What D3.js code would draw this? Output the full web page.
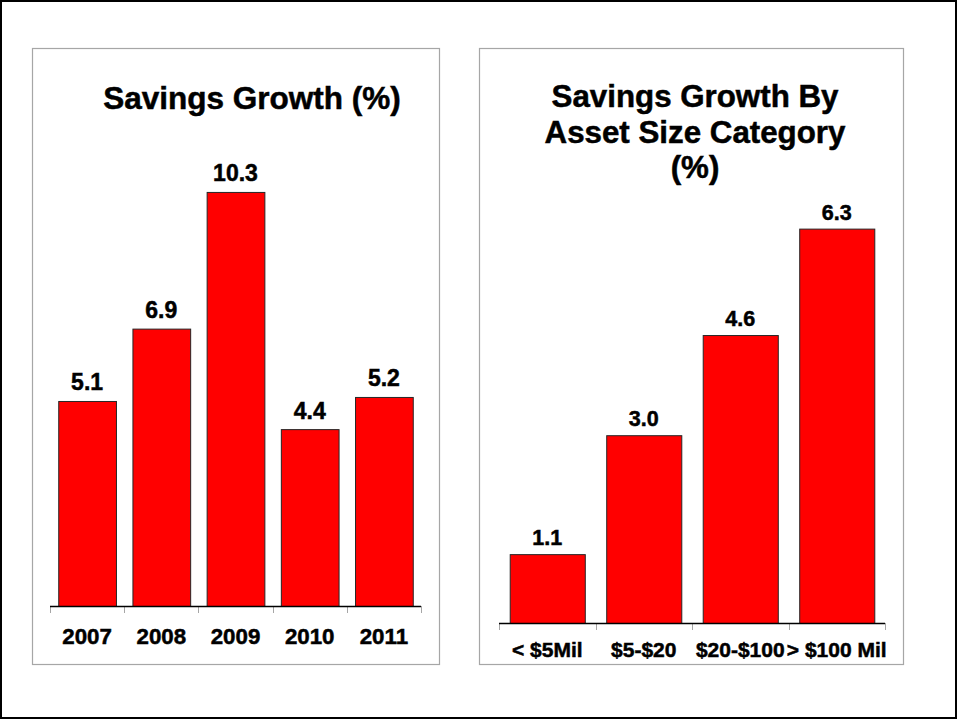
<!DOCTYPE html>
<html>
<head>
<meta charset="utf-8">
<script src="https://cdn.jsdelivr.net/npm/d3@7"></script>
<style>
  html, body { margin: 0; padding: 0; background: #fff; }
  svg { display: block; font-family: "Liberation Sans", Arial, sans-serif; font-weight: bold; }
  svg text { stroke: #000; stroke-width: 0.5px; fill: #000; }
</style>
</head>
<body>
<svg id="chart" width="957" height="720"></svg>
<script>
// Savings growth by year
const years = ["2007", "2008", "2009", "2010", "2011"];
const yearGrowth = [5.1, 6.9, 10.3, 4.4, 5.2];

// Savings growth by asset size category
const sizeCategories = ["< $5Mil", "$5-$20", "$20-$100", "> $100 Mil"];
const sizeGrowth = [1.1, 3.0, 4.6, 6.3];

const svg = d3.select("#chart");

// outer frame
svg.append("rect")
  .attr("x", 1).attr("y", 1).attr("width", 955).attr("height", 717)
  .attr("fill", "none").attr("stroke", "#000").attr("stroke-width", 2);

function panel(opts) {
  const g = svg.append("g");
  // panel frame
  g.append("rect")
    .attr("x", opts.box[0] + 0.5).attr("y", opts.box[1] + 0.5)
    .attr("width", opts.box[2]).attr("height", opts.box[3])
    .attr("fill", "#fff").attr("stroke", "#a6a6a6").attr("stroke-width", 1.2);

  // title lines
  g.append("text")
    .attr("text-anchor", "middle")
    .attr("font-size", opts.titleSize)
    .selectAll("tspan").data(opts.title).join("tspan")
    .attr("x", opts.titleX)
    .attr("y", (d, i) => opts.titleY + i * opts.titleLead)
    .text(d => d);

  const x = d3.scaleBand()
    .domain(opts.categories)
    .range(opts.xRange)
    .paddingInner(0.222)
    .paddingOuter(0.111);

  const y = d3.scaleLinear()
    .domain([0, opts.yMax])
    .range([opts.base, opts.base - opts.yMax * opts.pxPerUnit]);

  const rows = opts.categories.map((c, i) => ({ c, v: opts.values[i] }));

  g.selectAll("rect.bar").data(rows).join("rect")
    .attr("class", "bar")
    .attr("x", d => x(d.c) + 0.5)
    .attr("y", d => y(d.v) + 0.5)
    .attr("width", x.bandwidth())
    .attr("height", d => y(0) - y(d.v))
    .attr("fill", "#ff0000")
    .attr("stroke", "#262626")
    .attr("stroke-width", 1);

  g.selectAll("text.val").data(rows).join("text")
    .attr("class", "val")
    .attr("text-anchor", "middle")
    .attr("font-size", opts.valSize)
    .attr("x", d => x(d.c) + x.bandwidth() / 2)
    .attr("y", d => y(d.v) - opts.valGap)
    .text(d => d.v.toFixed(1));

  // category axis
  const axis = d3.axisBottom(x).tickSize(0).tickPadding(0);
  const ag = g.append("g").attr("transform", `translate(0,${opts.base + 0.5})`).call(axis);
  ag.select(".domain").remove();
  ag.selectAll("text")
    .attr("font-size", opts.catSize)
    .attr("font-family", "Liberation Sans, Arial, sans-serif")
    .attr("font-weight", "bold")
    .attr("fill", "#000")
    .attr("dy", null)
    .attr("y", opts.catY - opts.base);

  // tick marks on band boundaries
  const bounds = opts.categories.map(c => x(c) - x.step() * x.paddingInner() / 2);
  bounds.push(opts.xRange[1]);
  g.selectAll("line.tk").data(bounds).join("line")
    .attr("class", "tk")
    .attr("x1", d => Math.round(d) + 0.5).attr("x2", d => Math.round(d) + 0.5)
    .attr("y1", opts.base).attr("y2", opts.base + 7)
    .attr("stroke", "#a6a6a6").attr("stroke-width", 1);

  g.append("line")
    .attr("x1", opts.xRange[0]).attr("x2", opts.xRange[1])
    .attr("y1", opts.base + 0.5).attr("y2", opts.base + 0.5)
    .attr("stroke", "#000").attr("stroke-width", 1.3);
}

panel({
  box: [32, 48, 407, 616],
  title: ["Savings Growth (%)"],
  titleX: 252, titleY: 109, titleLead: 0, titleSize: 31.5,
  categories: years, values: yearGrowth,
  xRange: [50, 421], base: 606, yMax: 12, pxPerUnit: 40.2,
  valSize: 23, valGap: 10.5, catSize: 22.3, catY: 643
});

panel({
  box: [479, 48, 424, 616],
  title: ["Savings Growth By", "Asset Size Category", "(%)"],
  titleX: 695, titleY: 107, titleLead: 35.5, titleSize: 31.3,
  categories: sizeCategories, values: sizeGrowth,
  xRange: [499, 885], base: 623, yMax: 7, pxPerUnit: 62.6,
  valSize: 21.5, valGap: 9, catSize: 21, catY: 656
});
</script>
</body>
</html>
